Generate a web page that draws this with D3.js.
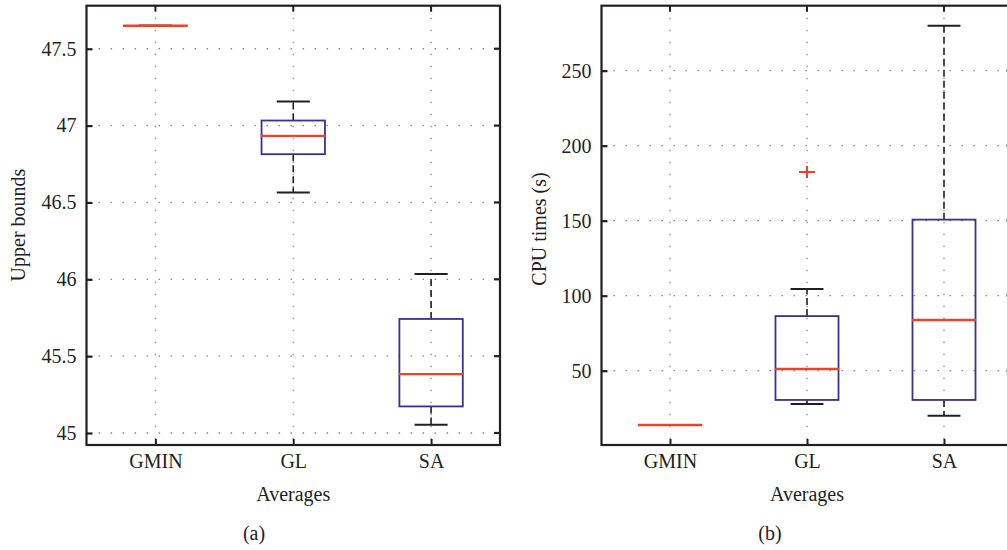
<!DOCTYPE html>
<html>
<head>
<meta charset="utf-8">
<script src="https://cdn.jsdelivr.net/npm/d3@7"></script>
<style>
  html, body { margin: 0; padding: 0; background: #fff; }
  svg { display: block; }
  text { font-family: "Liberation Serif", "DejaVu Serif", serif; fill: #231f20; }
</style>
</head>
<body>
<svg id="chart" width="1007" height="550"></svg>
<script>
// ---------------- data ----------------
const categories = ["GMIN", "GL", "SA"];

// Panel (a): Upper bounds
const aWhiskerLow  = [47.65, 46.564, 45.054];
const aQ1          = [47.65, 46.814, 45.173];
const aMedian      = [47.65, 46.933, 45.383];
const aQ3          = [47.65, 47.033, 45.742];
const aWhiskerHigh = [47.65, 47.156, 46.034];
const aOutliers    = [[], [], []];
const aTicks       = [45, 45.5, 46, 46.5, 47, 47.5];
const aTickLabels  = ["45", "45.5", "46", "46.5", "47", "47.5"];
const aDomain      = [44.922, 47.78];

// Panel (b): CPU times (s)
const bWhiskerLow  = [13.8, 27.8, 20.0];
const bQ1          = [13.8, 30.5, 30.5];
const bMedian      = [13.8, 51.1, 83.8];
const bQ3          = [13.8, 86.4, 150.7];
const bWhiskerHigh = [13.8, 104.5, 280.0];
const bOutliers    = [[], [182.5], []];
const bTicks       = [50, 100, 150, 200, 250];
const bTickLabels  = ["50", "100", "150", "200", "250"];
const bDomain      = [0.47, 293.3];

// ---------------- drawing ----------------
const svg = d3.select("#chart");
const INK = "#231f20";
const BLUE = "#3b2f95";
const RED = "#ee4326";
const GRID = "#8a8a8a";

function panel(opt) {
  const g = svg.append("g");
  const x = d3.scaleLinear().domain([0.5, categories.length + 0.5]).range([opt.left, opt.right]);
  const y = d3.scaleLinear().domain(opt.domain).range([opt.bottom, opt.top]);
  const pos = categories.map((c, i) => i + 1);

  const clipId = "clip-" + opt.name;
  svg.append("clipPath").attr("id", clipId)
    .append("rect").attr("x", opt.left).attr("y", opt.top)
    .attr("width", opt.right - opt.left).attr("height", opt.bottom - opt.top);

  const plot = g.append("g").attr("clip-path", `url(#${clipId})`);

  // grid
  plot.selectAll(".hgrid").data(opt.ticks).join("line")
    .attr("x1", opt.left).attr("x2", opt.right)
    .attr("y1", d => y(d)).attr("y2", d => y(d))
    .attr("stroke", GRID).attr("stroke-width", 1.3).attr("stroke-dasharray", "1.6,10.4");
  plot.selectAll(".vgrid").data(pos).join("line")
    .attr("x1", d => x(d)).attr("x2", d => x(d))
    .attr("y1", opt.top).attr("y2", opt.bottom)
    .attr("stroke", GRID).attr("stroke-width", 1.3).attr("stroke-dasharray", "1.6,10.4");

  const boxW = 0.46, capW = 0.24, medW = 0.47;
  const stats = categories.map((c, i) => ({
    p: i + 1, lo: opt.wl[i], q1: opt.q1[i], med: opt.med[i], q3: opt.q3[i], hi: opt.wh[i], out: opt.out[i]
  }));

  // whiskers (dashed)
  plot.selectAll(".wu").data(stats.filter(s => s.hi > s.q3)).join("line")
    .attr("x1", s => x(s.p)).attr("x2", s => x(s.p))
    .attr("y1", s => y(s.q3)).attr("y2", s => y(s.hi))
    .attr("stroke", INK).attr("stroke-width", 1.6).attr("stroke-dasharray", "7,4");
  plot.selectAll(".wl").data(stats.filter(s => s.lo < s.q1)).join("line")
    .attr("x1", s => x(s.p)).attr("x2", s => x(s.p))
    .attr("y1", s => y(s.q1)).attr("y2", s => y(s.lo))
    .attr("stroke", INK).attr("stroke-width", 1.6).attr("stroke-dasharray", "7,4");
  // caps
  plot.selectAll(".cu").data(stats).join("line")
    .attr("x1", s => x(s.p - capW / 2)).attr("x2", s => x(s.p + capW / 2))
    .attr("y1", s => y(s.hi)).attr("y2", s => y(s.hi))
    .attr("stroke", INK).attr("stroke-width", 2);
  plot.selectAll(".cl").data(stats).join("line")
    .attr("x1", s => x(s.p - capW / 2)).attr("x2", s => x(s.p + capW / 2))
    .attr("y1", s => y(s.lo)).attr("y2", s => y(s.lo))
    .attr("stroke", INK).attr("stroke-width", 2);
  // boxes
  plot.selectAll(".box").data(stats).join("rect")
    .attr("x", s => x(s.p - boxW / 2)).attr("width", s => x(s.p + boxW / 2) - x(s.p - boxW / 2))
    .attr("y", s => y(s.q3)).attr("height", s => y(s.q1) - y(s.q3))
    .attr("fill", "none").attr("stroke", BLUE).attr("stroke-width", 1.8);
  // medians
  plot.selectAll(".med").data(stats).join("line")
    .attr("x1", s => x(s.p - medW / 2)).attr("x2", s => x(s.p + medW / 2))
    .attr("y1", s => y(s.med)).attr("y2", s => y(s.med))
    .attr("stroke", RED).attr("stroke-width", 2.4);
  // outliers (+)
  const outs = [];
  stats.forEach(s => s.out.forEach(v => outs.push({ p: s.p, v })));
  const og = plot.selectAll(".out").data(outs).join("g")
    .attr("transform", d => `translate(${x(d.p)},${y(d.v)})`);
  og.append("line").attr("x1", -8).attr("x2", 8).attr("stroke", RED).attr("stroke-width", 2);
  og.append("line").attr("y1", -6).attr("y2", 6).attr("stroke", RED).attr("stroke-width", 2);

  // frame
  g.append("rect").attr("x", opt.left).attr("y", opt.top)
    .attr("width", opt.right - opt.left).attr("height", opt.bottom - opt.top)
    .attr("fill", "none").attr("stroke", INK).attr("stroke-width", 2.2);

  // left axis
  const yAxis = d3.axisLeft(y).tickValues(opt.ticks)
    .tickFormat((d, i) => opt.labels[i]).tickSize(-6).tickPadding(10);
  const ya = g.append("g").attr("transform", `translate(${opt.left},0)`).call(yAxis);
  ya.select(".domain").remove();
  ya.selectAll(".tick line").attr("stroke", INK).attr("stroke-width", 2.2);
  ya.selectAll(".tick text").attr("font-size", 20).attr("fill", INK)
    .style("font-family", '"Liberation Serif", serif');
  // right-side ticks
  g.selectAll(".rt").data(opt.ticks).join("line")
    .attr("x1", opt.right).attr("x2", opt.right - 6)
    .attr("y1", d => y(d)).attr("y2", d => y(d))
    .attr("stroke", INK).attr("stroke-width", 2.2);

  // bottom axis
  const xAxis = d3.axisBottom(x).tickValues(pos)
    .tickFormat((d, i) => categories[i]).tickSize(-6).tickPadding(12);
  const xa = g.append("g").attr("transform", `translate(0,${opt.bottom})`).call(xAxis);
  xa.select(".domain").remove();
  xa.selectAll(".tick line").attr("stroke", INK).attr("stroke-width", 2);
  xa.selectAll(".tick text").attr("font-size", 20).attr("fill", INK)
    .attr("dy", null).attr("y", 23)
    .style("font-family", '"Liberation Serif", serif');
  // top ticks
  g.selectAll(".tt").data(pos).join("line")
    .attr("x1", d => x(d)).attr("x2", d => x(d))
    .attr("y1", opt.top).attr("y2", opt.top + 6)
    .attr("stroke", INK).attr("stroke-width", 2);

  // axis titles
  g.append("text").attr("x", x(2)).attr("y", 501)
    .attr("text-anchor", "middle").attr("font-size", 20).text("Averages");
  g.append("text")
    .attr("transform", `translate(${opt.ylabelX},${opt.ylabelY}) rotate(-90)`)
    .attr("text-anchor", "middle").attr("font-size", 20).text(opt.ylabel);
  g.append("text").attr("x", opt.capX).attr("y", 540)
    .attr("text-anchor", "middle").attr("font-size", 20).text(opt.caption);
}

panel({
  name: "a", left: 86.5, right: 500, top: 5.7, bottom: 445,
  domain: aDomain, ticks: aTicks, labels: aTickLabels,
  wl: aWhiskerLow, q1: aQ1, med: aMedian, q3: aQ3, wh: aWhiskerHigh, out: aOutliers,
  ylabel: "Upper bounds", ylabelX: 25, ylabelY: 225, caption: "(a)", capX: 254
});
panel({
  name: "b", left: 601.5, right: 1012.5, top: 5.7, bottom: 445,
  domain: bDomain, ticks: bTicks, labels: bTickLabels,
  wl: bWhiskerLow, q1: bQ1, med: bMedian, q3: bQ3, wh: bWhiskerHigh, out: bOutliers,
  ylabel: "CPU times (s)", ylabelX: 546, ylabelY: 229, caption: "(b)", capX: 770
});
</script>
</body>
</html>
